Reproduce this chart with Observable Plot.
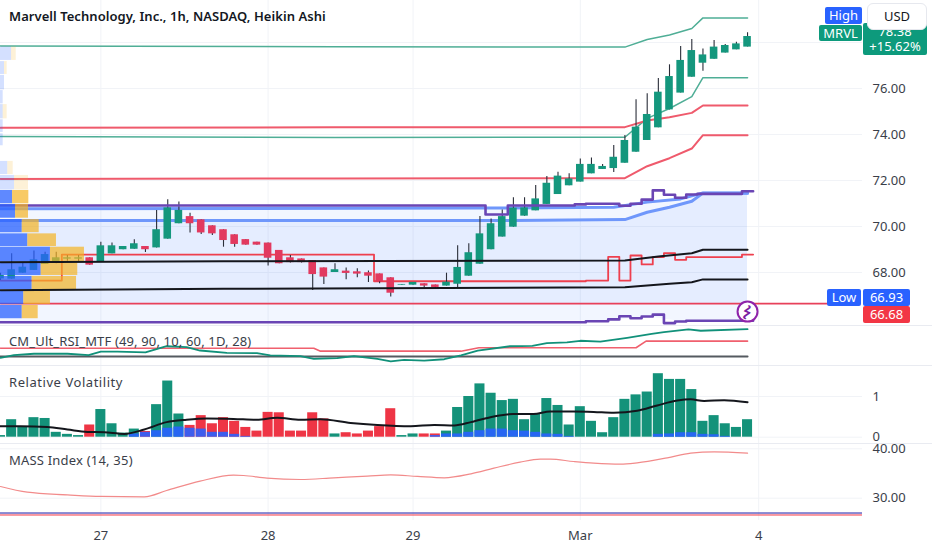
<!DOCTYPE html>
<html>
<head>
<meta charset="utf-8">
<script src="https://cdn.jsdelivr.net/npm/d3@7"></script>
<script src="https://cdn.jsdelivr.net/npm/@observablehq/plot@0.6"></script>
<style>
html,body{margin:0;padding:0;background:#fff;width:932px;height:550px;overflow:hidden}
#root{position:relative;width:932px;height:550px;font-family:"Noto Sans",sans-serif;color:#131722}
.pane{position:absolute;left:0;width:932px}
.pane svg{display:block;background:transparent}
.pane.sep{border-top:1px solid #e9ebf1;box-sizing:border-box}
.tag{position:absolute;color:#fff;font-size:13px;line-height:1;display:flex;align-items:center;justify-content:center;border-radius:2px;white-space:nowrap}
.legend{position:absolute;left:9px;font-size:13px;line-height:13px;color:#3a3e49;white-space:nowrap}
#title{position:absolute;left:9px;top:7px;font-size:13px;font-weight:600;color:#131722;white-space:nowrap;letter-spacing:.05px}
</style>
</head>
<body>
<div id="root"></div>
<script>
// ---------- candles (Heikin Ashi) ----------
const open = [67.72,67.71,67.97,68.09,68.35,68.45,68.58,68.58,68.64,68.45,68.81,68.99,69.01,69.13,69.07,69.45,70.12,70.43,70.29,70.03,69.86,69.64,69.43,69.32,69.28,68.96,68.64,68.59,68.52,68.20,68.00,68.06,68.03,67.99,67.94,67.77,67.45,67.45,67.51,67.46,67.41,67.49,67.84,68.36,68.99,69.54,69.97,70.45,70.68,70.96,71.39,71.77,71.93,72.29,72.48,72.52,72.75,73.23,73.74,74.29,75.07,75.80,76.49,77.10,77.27,77.54,77.68,77.80];
const close = [67.87,68.12,68.23,68.55,68.78,68.64,68.64,68.64,68.32,69.16,69.16,69.13,69.25,68.99,69.86,70.81,70.70,70.12,69.72,69.68,69.39,69.22,69.19,69.19,68.62,68.38,68.43,68.43,67.91,67.80,68.12,67.96,67.93,67.84,67.59,67.10,67.48,67.57,67.41,67.35,67.58,68.22,68.86,69.68,70.12,70.43,70.80,70.81,71.20,71.88,72.19,72.07,72.70,72.70,72.61,73.01,73.74,74.32,74.87,75.84,76.52,77.22,77.65,77.46,77.80,77.87,77.94,78.26];
const high = [67.97,68.81,68.41,68.93,68.88,68.88,68.74,68.74,68.64,69.32,69.28,69.13,69.42,69.13,70.70,71.16,71.06,70.58,70.29,70.03,69.86,69.64,69.43,69.32,69.28,68.96,68.74,68.59,68.52,68.20,68.38,68.20,68.16,68.06,67.94,67.77,67.48,67.57,67.51,67.46,67.97,69.16,69.25,70.43,70.33,70.72,71.25,71.25,71.78,72.17,72.36,72.29,72.94,72.98,72.70,73.52,73.96,75.51,75.77,76.43,77.03,77.83,78.13,77.72,78.09,77.91,78.01,78.42];
const low = [67.65,67.71,67.97,68.09,68.35,68.38,68.49,68.45,68.32,68.45,68.81,68.99,69.01,68.87,69.07,69.45,70.12,69.72,69.65,69.61,69.10,69.10,69.19,69.19,68.28,68.38,68.41,68.41,67.22,67.48,68.00,67.68,67.77,67.57,67.51,66.93,67.45,67.45,67.33,67.30,67.41,67.33,67.84,68.36,68.99,69.54,69.97,70.45,70.68,70.96,71.39,71.77,71.93,72.29,72.48,72.35,72.75,73.23,73.74,74.29,75.07,75.80,76.49,76.75,77.27,77.54,77.68,77.80];

// ---------- overlay lines on the price pane: [candle index, price] ----------
const tealUpper = [[0,77.85],[30,77.82],[56,77.80],[58,78.13],[60,78.33],[62,78.61],[63,79.07],[67,79.07]];
const tealLower = [[0,73.91],[30,73.87],[56,73.88],[58,74.70],[60,75.13],[62,75.65],[63,76.47],[67,76.47]];
const redUpper = [[0,74.29],[30,74.31],[56,74.32],[58,74.61],[60,74.75],[62,74.94],[63,75.26],[67,75.26]];
const redLower = [[0,72.07],[30,72.09],[56,72.10],[58,72.62],[60,72.97],[62,73.39],[63,73.97],[67,73.97]];
const blueUpper = [[0,70.77],[43,70.80],[55,70.84],[58,71.06],[61,71.20],[63,71.46],[67,71.46]];
const blueLower = [[0,70.26],[46,70.26],[56,70.30],[58,70.62],[60,70.84],[62,71.10],[63,71.45],[67,71.45]];
const blackUpper = [[0,68.45],[20,68.49],[56,68.52],[59,68.70],[62,68.84],[63,68.99],[67,68.99]];
const blackLower = [[0,67.23],[20,67.29],[56,67.36],[60,67.51],[62,67.58],[63,67.70],[67,67.70]];
const lowRed = [[0,66.65],[74.2,66.65]];
const purpleUpper = [[0,70.91],[43.5,70.52],[45.5,70.91],[51.5,70.96],[52.5,70.99],[55.5,70.90],[56.5,70.99],[57.5,71.17],[58.5,71.57],[59.5,71.38],[60.5,71.25],[61.5,71.39],[62.5,71.42],[66.5,71.53],[67.5,71.53]];
const purpleLower = [[0,65.84],[52.5,65.88],[54.5,65.96],[55.5,66.10],[56.5,66.01],[57.5,66.09],[58.5,66.17],[59.5,65.80],[60.5,65.87],[61.5,65.90],[67.5,65.90]];
const redStep = [[0,67.65],[5.5,68.78],[33.5,67.62],[52.5,67.65],[54.5,68.68],[55.5,67.65],[56.5,68.74],[57.5,68.35],[58.5,68.67],[59.5,68.84],[60.5,68.55],[61.5,68.67],[66.5,68.78],[67.5,68.78]];

// ---------- shaded value band ----------
const bandX = [0,55,58,61,63,67];
const bandTop = [70.84,70.84,71.06,71.20,71.46,71.46];
const bandBottom = [65.84,65.90,66.09,65.87,65.90,65.90];
const coreX = [0,56,58,60,62,63,67];
const coreTop = [70.26,70.30,70.62,70.84,71.10,71.45,71.45];
const coreBottom = [66.65,66.65,66.65,66.65,66.65,66.65,66.65];

// ---------- volume profile (price rows; lengths in candle widths) ----------
const rowTop = [77.80,77.17,76.57,75.91,75.30,74.64,74.03,72.83,72.22,71.57,70.96,70.30,69.68,69.10,68.42,67.83,67.20,66.57];
const rowBottom = [77.22,76.61,75.94,75.33,74.68,74.09,73.51,72.26,71.60,70.99,70.36,69.73,69.13,68.45,67.87,67.25,66.61,65.99];
const rowBuy = [0.99,0.36,0.36,0.24,0.24,0.24,0.24,0.65,1.26,1.08,1.35,1.95,2.45,4.48,3.65,2.84,2.09,1.95];
const rowTotal = [1.41,0.60,0.36,0.24,0.60,0.24,0.24,1.14,2.51,2.54,2.51,3.47,5.02,7.53,6.93,6.82,4.48,3.38];
const rowActive = [0,0,0,0,0,0,0,0,0,1,1,1,1,1,1,1,1,1];

// ---------- RSI pane ----------
const rsiTeal = [[0,49.0],[1.2,51.0],[3,52.1],[6,52.1],[7.9,51.0],[9,53.8],[10.5,53.8],[13,53.1],[14.9,57.9],[16.7,57.2],[17.9,54.6],[20.3,52.8],[23,52.6],[24.2,50.8],[26.9,50.3],[28.1,48.2],[30.2,48.7],[31.7,50.3],[33.8,48.2],[35,46.2],[36.2,47.4],[38,46.9],[39.8,47.9],[41.3,50.8],[42.8,54.6],[45.7,57.9],[47.7,58.2],[49,60.3],[50.8,60.8],[52,62.1],[53.8,61.5],[56.2,64.4],[58.4,67.4],[59.5,68.7],[61.7,70.8],[62.8,69.8],[67,71.0]];
const rsiRed = [[0,56.4],[28.1,56.4],[28.7,54.1],[41.3,54.1],[42.9,56.7],[57,56.7],[57.9,61.8],[67,61.8]];
const rsiMid = [[0,50],[67,50]];

// ---------- Relative Volatility pane ----------
const rvTotal = [.04,.43,.25,.48,.46,.12,.07,.04,.30,.68,.33,.10,.20,.14,.80,1.38,.57,.29,.53,.33,.48,.39,.24,.15,.61,.60,.15,.15,.60,.45,.08,.11,.08,.15,.26,.70,.04,.08,.08,.08,.15,.73,1.00,1.31,1.08,.90,.93,.43,.57,.95,.78,.30,.75,.39,.11,.48,.93,1.04,1.11,1.56,1.42,1.42,1.17,.39,.53,.33,.24,.43];
const rvBlue = [0,0,0,0,0,0,0,0,0,0,0,0,.08,.12,.16,.22,.25,.22,.20,.12,.12,.07,.02,0,0,0,0,0,0,0,0,0,0,0,0,0,0,0,0,.04,.08,.08,.12,.16,.20,.20,.16,.15,.12,.08,.07,.02,0,0,0,0,0,0,0,.07,.08,.11,.11,.07,.06,.02,0,0];
const rvFalling = [8,13,17,18,19,20,21,22,23,24,25,26,27,28,29,31,32,33,34,35,38,39];
const rvAverage = [[0,.27],[1.8,.27],[4.2,.25],[6,.19],[7.8,.13],[9.3,.12],[11.1,.08],[12.9,.19],[14.9,.37],[16.7,.43],[18.5,.46],[20.9,.45],[23,.43],[24.8,.48],[26.9,.43],[28.7,.44],[31.4,.35],[33.8,.30],[36.8,.27],[38.9,.30],[40.7,.29],[42.2,.37],[44.25,.51],[46,.57],[47.8,.57],[49.3,.63],[51.4,.63],[53.2,.62],[55,.60],[57.1,.65],[58.9,.78],[60.7,.90],[61.9,.93],[63.1,.89],[64.9,.91],[67,.86]];

// ---------- MASS pane ----------
const massLine = [[0,32.37],[2.4,31.22],[6,30.68],[9,30.35],[12.9,30.28],[14.9,31.56],[17.9,33.45],[20.9,34.66],[21.8,34.6],[23.9,34.06],[26.9,33.79],[29.9,34.13],[32.9,34.46],[35,34.73],[37.4,34.4],[39.8,34.13],[42.2,34.94],[44.25,36.08],[46.6,37.3],[48.4,37.9],[49.3,37.9],[51.4,37.43],[53.2,37.1],[55.6,36.89],[57.1,37.16],[59.8,38.17],[61.9,39.12],[64,39.39],[67,39.12]];
const massBlue = 27.0;
const massRed = 26.6;

// ---------- axes ----------
const priceTicks = [68,70,72,74,76];
const priceGrid = [68,70,72,74,76,78];
const rvTicks = [0,1];
const massTicks = [30,40];
const dateIdx = [9,24,37,52,68];
const dateLabels = ["27","28","29","Mar","4"];

// ---------- colours ----------
const UP = "#14977d", DOWN = "#e2395f", BAR_UP = "#14927a", BAR_DN = "#ee3545", BLUE = "#2962ff",
      GRID = "#f1f3f7", PURPLE = "#6a45b4", TEXT = "#3a3e49";

const width = 932, right = 61, step = 11.15;
const xOpt = {domain:[0,(width-right)/step],range:[0,width-right],axis:null};
const font = {fontFamily:'"Noto Sans",sans-serif',fontSize:"13px",background:"transparent",overflow:"visible"};

const ln = (arr,stroke,strokeWidth,extra={}) => Plot.line(arr,{x:d=>d[0],y:d=>d[1],stroke,strokeWidth,...extra});
const vgrid = (y1,y2) => Plot.ruleX(dateIdx,{y1,y2,stroke:GRID,strokeWidth:1});
const hgrid = ticks => Plot.ruleY(ticks,{x1:0,x2:862/step,stroke:GRID,strokeWidth:1});

const idx = d3.range(open.length);
const rows = d3.range(rowTop.length);
const PRICE_TOP = 76 + 88/23, PRICE_BOTTOM = 76 - 237/23;

const price = Plot.plot({
  width,height:325,margin:0,marginRight:right,style:font,
  x:xOpt,y:{domain:[PRICE_BOTTOM,PRICE_TOP],range:[325,0],axis:null},
  marks:[
    vgrid(PRICE_BOTTOM,PRICE_TOP),hgrid(priceGrid),
    Plot.areaY(bandX,{x:d=>d,y1:(d,i)=>bandBottom[i],y2:(d,i)=>bandTop[i],fill:BLUE,fillOpacity:.06}),
    Plot.areaY(coreX,{x:d=>d,y1:(d,i)=>coreBottom[i],y2:(d,i)=>coreTop[i],fill:BLUE,fillOpacity:.06}),
    ln(tealUpper,"#4fae96",1.5),ln(tealLower,"#4fae96",1.5),
    ln(redUpper,"#ef5a6c",2),ln(redLower,"#ef5a6c",2),
    ln(blueUpper,"#6f97fb",3),ln(blueLower,"#6f97fb",3),
    ln(lowRed,"#e8405a",1.8),
    ln(redStep,"#ee3f4e",1.8,{curve:"step-after"}),
    Plot.ruleX(idx,{x:d=>d,y1:i=>low[i],y2:i=>high[i],stroke:"#2a2e39",strokeWidth:1.1}),
    Plot.rect(idx,{x1:d=>d-.34,x2:d=>d+.34,y1:i=>Math.min(open[i],close[i]),y2:i=>Math.max(open[i],close[i]),fill:i=>close[i]>=open[i]?UP:DOWN}),
    ln(purpleUpper,PURPLE,2.6,{curve:"step-after"}),
    ln(purpleLower,PURPLE,2.6,{curve:"step-after"}),
    Plot.rect(rows,{x1:0,x2:i=>rowBuy[i],y1:i=>rowBottom[i],y2:i=>rowTop[i],fill:BLUE,fillOpacity:i=>rowActive[i]?.75:.2}),
    Plot.rect(rows,{x1:i=>rowBuy[i],x2:i=>rowTotal[i],y1:i=>rowBottom[i],y2:i=>rowTop[i],fill:"#f5b324",fillOpacity:i=>rowActive[i]?.7:.18}),
    ln(blackUpper,"#14161c",2),ln(blackLower,"#14161c",2),
    Plot.dot([[67,66.30]],{x:d=>d[0],y:d=>d[1],r:10,fill:"#fff",stroke:"#8e24aa",strokeWidth:2}),
    Plot.text([[67,66.30]],{x:d=>d[0],y:d=>d[1],text:()=>"ϟ",fill:"#7b1fa2",fontSize:14,fontWeight:700,rotate:35}),
    Plot.axisY(priceTicks,{anchor:"right",tickSize:0,tickPadding:1,label:null,tickFormat:d=>d.toFixed(2),fill:TEXT})
  ]
});

const RSI_TOP = 50+30/1.3, RSI_BOTTOM = 50-9/1.3;
const rsi = Plot.plot({
  width,height:39,margin:0,marginRight:right,style:font,
  x:xOpt,y:{domain:[RSI_BOTTOM,RSI_TOP],range:[39,0],axis:null},
  marks:[
    vgrid(RSI_BOTTOM,RSI_TOP),
    ln(rsiMid,"#555a60",2),
    ln(rsiRed,"#f0606e",1.6),
    ln(rsiTeal,"#11917a",1.8)
  ]
});

const RV_TOP = 70.7/40.7, RV_BOTTOM = -6.3/40.7;
const rv = Plot.plot({
  width,height:77,margin:0,marginRight:right,style:font,
  x:xOpt,y:{domain:[RV_BOTTOM,RV_TOP],range:[77,0],axis:null},
  marks:[
    vgrid(RV_BOTTOM,RV_TOP),hgrid(rvTicks),
    Plot.rect(idx,{x1:d=>d-.45,x2:d=>d+.45,y1:0,y2:i=>rvTotal[i],fill:i=>rvFalling.includes(i)?BAR_DN:BAR_UP}),
    Plot.rect(idx,{x1:d=>d-.45,x2:d=>d+.45,y1:0,y2:i=>rvBlue[i],fill:BLUE,fillOpacity:.9}),
    ln(rvAverage,"#14161c",2,{curve:"monotone-x"}),
    Plot.axisY(rvTicks,{anchor:"right",tickSize:0,tickPadding:1,label:null,tickFormat:d=>String(d),fill:TEXT})
  ]
});

const MASS_TOP = 40+4.3/4.94, MASS_BOTTOM = 40-71.7/4.94;
const mass = Plot.plot({
  width,height:105,margin:0,marginRight:right,marginBottom:29,style:font,
  x:xOpt,y:{domain:[MASS_BOTTOM,MASS_TOP],range:[76,0],axis:null},
  marks:[
    vgrid(MASS_BOTTOM,MASS_TOP),hgrid(massTicks),
    ln(massLine,"#f28b8b",1.2,{curve:"monotone-x"}),
    Plot.ruleY([massBlue],{x1:0,x2:862/step,stroke:"#1a1aa6",strokeWidth:1}),
    Plot.ruleY([massRed],{x1:0,x2:862/step,stroke:"#f23645",strokeWidth:1}),
    Plot.axisY(massTicks,{anchor:"right",tickSize:0,tickPadding:1,label:null,tickFormat:d=>d.toFixed(2),fill:TEXT}),
    Plot.axisX(dateIdx,{anchor:"bottom",tickSize:0,tickPadding:10,label:null,tickFormat:d=>dateLabels[dateIdx.indexOf(d)],fill:TEXT,fontSize:13})
  ]
});

const root = document.getElementById("root");
const addPane = (node,top,sep) => {
  const d = document.createElement("div");
  d.className = "pane"+(sep?" sep":"");
  d.style.top = top+"px";
  d.appendChild(node);
  root.appendChild(d);
};
addPane(price,0,false);
addPane(rsi,325,true);
addPane(rv,365,true);
addPane(mass,443,true);

const html = (cls,text,style) => {
  const d = document.createElement("div");
  d.className = cls;
  d.textContent = text;
  Object.assign(d.style,style);
  root.appendChild(d);
  return d;
};
html("", "Marvell Technology, Inc., 1h, NASDAQ, Heikin Ashi", {}).id = "title";
html("legend","CM_Ult_RSI_MTF (49, 90, 10, 60, 1D, 28)",{top:"335px",letterSpacing:".15px"});
html("legend","Relative Volatility",{top:"376px",letterSpacing:".55px"});
html("legend","MASS Index (14, 35)",{top:"454px",letterSpacing:".2px"});
html("tag","High",{left:"825px",top:"7px",width:"37px",height:"17px",background:"#2962ff"});
html("tag","MRVL",{left:"819px",top:"25px",width:"43px",height:"16px",background:"#0d9a7c"});
const last = html("tag","",{left:"863px",top:"23px",width:"64px",height:"32px",background:"#0d9a7c",flexDirection:"column",lineHeight:"15px"});
last.innerHTML = "<span>78.38</span><span>+15.62%</span>";
html("tag","USD",{left:"867px",top:"3px",width:"60px",height:"27px",background:"#fff",color:"#131722",border:"1px solid #e6e8ee",borderRadius:"6px",boxSizing:"border-box"});
html("tag","Low",{left:"827px",top:"289px",width:"34px",height:"17px",background:"#2962ff"});
html("tag","66.93",{left:"863px",top:"289px",width:"47px",height:"17px",background:"#2962ff"});
html("tag","66.68",{left:"863px",top:"306px",width:"47px",height:"17px",background:"#f23645"});
</script>
</body>
</html>
